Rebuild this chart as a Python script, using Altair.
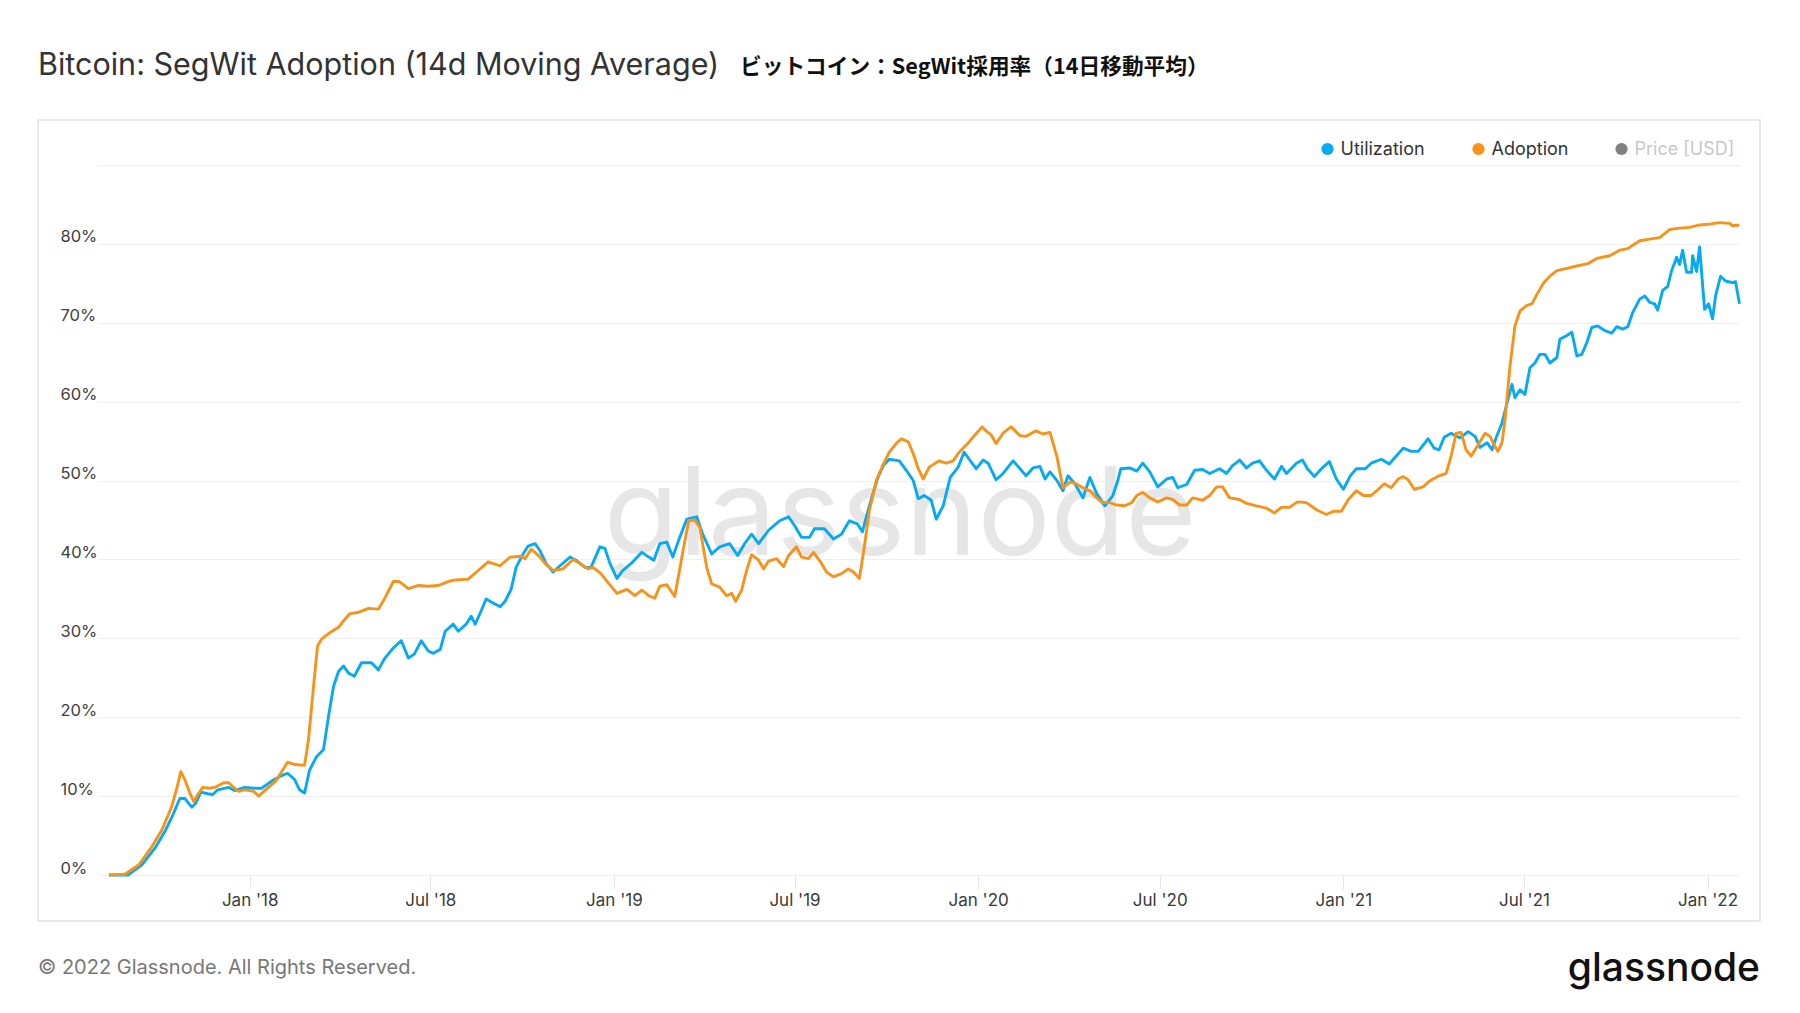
import altair as alt
import pandas as pd

TITLE = "Bitcoin: SegWit Adoption (14d Moving Average)"
SUBTITLE = "ビットコイン：SegWit採用率（14日移動平均）"
COPYRIGHT = "© 2022 Glassnode. All Rights Reserved."
BRAND = "glassnode"

LEGEND_LABELS = ["Utilization", "Adoption", "Price [USD]"]
LEGEND_DOT_COLORS = ["#06a9f4", "#f7931a", "#808080"]
LEGEND_TEXT_COLORS = ["#333333", "#333333", "#c8c8c8"]

TICK_DATES = ["2018-01-01", "2018-07-01", "2019-01-01", "2019-07-01", "2020-01-01",
              "2020-07-01", "2021-01-01", "2021-07-01", "2022-01-01"]
Y_TICKS = [0, 10, 20, 30, 40, 50, 60, 70, 80, 90]

adoption_dates = [
    "2017-08-13", "2017-08-29", "2017-09-12", "2017-09-25", "2017-10-05", "2017-10-15", "2017-10-20",
    "2017-10-24", "2017-10-28", "2017-11-02", "2017-11-06", "2017-11-10", "2017-11-15", "2017-11-22",
    "2017-11-27", "2017-12-06", "2017-12-11", "2017-12-16", "2017-12-21", "2017-12-27", "2018-01-05",
    "2018-01-10", "2018-01-17", "2018-01-27", "2018-02-02", "2018-02-08", "2018-02-15", "2018-02-25",
    "2018-03-01", "2018-03-06", "2018-03-10", "2018-03-14", "2018-03-21", "2018-03-31", "2018-04-05",
    "2018-04-11", "2018-04-20", "2018-04-30", "2018-05-10", "2018-05-16", "2018-05-25", "2018-05-31",
    "2018-06-09", "2018-06-19", "2018-06-29", "2018-07-09", "2018-07-19", "2018-07-26", "2018-08-08",
    "2018-08-18", "2018-08-28", "2018-09-09", "2018-09-19", "2018-09-30", "2018-10-04", "2018-10-10",
    "2018-10-14", "2018-10-19", "2018-10-24", "2018-11-01", "2018-11-11", "2018-11-21", "2018-11-28",
    "2018-12-06", "2018-12-11", "2018-12-19", "2018-12-26", "2019-01-04", "2019-01-14", "2019-01-22",
    "2019-01-29", "2019-02-05", "2019-02-11", "2019-02-16", "2019-02-23", "2019-03-03", "2019-03-12",
    "2019-03-17", "2019-03-23", "2019-03-28", "2019-04-04", "2019-04-09", "2019-04-17", "2019-04-24",
    "2019-04-29", "2019-05-03", "2019-05-09", "2019-05-14", "2019-05-19", "2019-05-26", "2019-05-31",
    "2019-06-05", "2019-06-13", "2019-06-20", "2019-06-25", "2019-07-03", "2019-07-08", "2019-07-15",
    "2019-07-20", "2019-07-27", "2019-08-02", "2019-08-09", "2019-08-17", "2019-08-24", "2019-08-29",
    "2019-09-04", "2019-09-09", "2019-09-14", "2019-09-21", "2019-09-28", "2019-10-04", "2019-10-11",
    "2019-10-16", "2019-10-23", "2019-10-28", "2019-11-02", "2019-11-07", "2019-11-13", "2019-11-23",
    "2019-11-30", "2019-12-07", "2019-12-13", "2019-12-23", "2019-12-29", "2020-01-05", "2020-01-09",
    "2020-01-14", "2020-01-19", "2020-01-26", "2020-02-03", "2020-02-12", "2020-02-18", "2020-02-28",
    "2020-03-06", "2020-03-13", "2020-03-20", "2020-03-26", "2020-04-02", "2020-04-08", "2020-04-15",
    "2020-04-22", "2020-04-29", "2020-05-05", "2020-05-12", "2020-05-19", "2020-05-27", "2020-06-03",
    "2020-06-08", "2020-06-14", "2020-06-21", "2020-06-29", "2020-07-08", "2020-07-14", "2020-07-21",
    "2020-07-28", "2020-08-03", "2020-08-13", "2020-08-20", "2020-08-27", "2020-09-02", "2020-09-09",
    "2020-09-19", "2020-09-26", "2020-10-06", "2020-10-16", "2020-10-24", "2020-10-31", "2020-11-08",
    "2020-11-16", "2020-11-25", "2020-12-05", "2020-12-15", "2020-12-22", "2020-12-30", "2021-01-06",
    "2021-01-14", "2021-01-21", "2021-01-29", "2021-02-05", "2021-02-11", "2021-02-18", "2021-02-25",
    "2021-03-02", "2021-03-07", "2021-03-13", "2021-03-22", "2021-03-28", "2021-04-07", "2021-04-14",
    "2021-04-19", "2021-04-24", "2021-04-29", "2021-05-04", "2021-05-09", "2021-05-16", "2021-05-23",
    "2021-05-28", "2021-06-02", "2021-06-05", "2021-06-09", "2021-06-12", "2021-06-17", "2021-06-22",
    "2021-06-27", "2021-07-04", "2021-07-09", "2021-07-14", "2021-07-21", "2021-07-27", "2021-08-03",
    "2021-08-13", "2021-08-23", "2021-09-03", "2021-09-13", "2021-09-25", "2021-10-05", "2021-10-13",
    "2021-10-25", "2021-11-04", "2021-11-14", "2021-11-24", "2021-12-04", "2021-12-14", "2021-12-24",
    "2022-01-03", "2022-01-13", "2022-01-23", "2022-01-26", "2022-02-02",
]
adoption_values = [
    0.0, 0.1, 1.3, 3.6, 5.7, 8.7, 11.0,
    13.1, 12.1, 10.4, 9.3, 10.2, 11.1, 11.0,
    11.1, 11.7, 11.7, 11.1, 10.6, 10.8, 10.6,
    10.0, 10.8, 11.9, 13.1, 14.3, 14.0, 13.9,
    17.2, 23.9, 29.0, 29.9, 30.6, 31.4, 32.2,
    33.1, 33.3, 33.8, 33.7, 35.0, 37.2, 37.2,
    36.3, 36.7, 36.6, 36.7, 37.2, 37.4, 37.5,
    38.6, 39.7, 39.2, 40.3, 40.4, 40.1, 41.3,
    40.9, 40.3, 39.5, 38.6, 38.8, 40.0, 39.5,
    38.8, 39.0, 38.2, 37.1, 35.7, 36.2, 35.4,
    36.1, 35.4, 35.1, 36.6, 36.8, 35.3, 41.6,
    44.9, 45.0, 44.1, 39.0, 36.9, 36.5, 35.4,
    35.7, 34.7, 36.1, 38.6, 40.6, 39.9, 38.8,
    39.8, 40.1, 39.1, 40.5, 41.6, 40.3, 40.1,
    40.9, 39.7, 38.4, 37.8, 38.2, 38.8, 38.4,
    37.6, 41.6, 46.2, 50.0, 52.1, 53.6, 54.7,
    55.3, 54.9, 53.4, 51.5, 50.2, 51.7, 52.5,
    52.2, 52.5, 53.6, 54.9, 55.8, 56.8, 56.3,
    55.8, 54.7, 56.0, 56.8, 55.7, 55.6, 56.3,
    55.9, 56.1, 53.0, 49.1, 49.8, 49.6, 49.1,
    48.7, 47.8, 47.2, 47.2, 46.9, 46.8, 47.2,
    48.1, 48.5, 47.8, 47.3, 47.8, 47.6, 46.9,
    46.9, 47.8, 47.5, 48.1, 49.2, 49.2, 47.8,
    47.6, 47.1, 46.8, 46.5, 45.9, 46.6, 46.6,
    47.3, 47.2, 46.3, 45.7, 46.1, 46.1, 47.6,
    48.7, 48.1, 48.1, 48.9, 49.6, 49.1, 50.2,
    50.5, 50.1, 48.9, 49.2, 49.9, 50.6, 50.9,
    53.1, 56.0, 56.1, 53.9, 53.1, 54.5, 56.0,
    55.6, 54.3, 53.7, 54.8, 57.7, 64.5, 69.6,
    71.5, 72.2, 72.4, 73.6, 75.1, 75.9, 76.6,
    76.9, 77.2, 77.5, 78.2, 78.5, 79.2, 79.4,
    80.4, 80.6, 80.8, 81.8, 82.0, 82.1, 82.4,
    82.5, 82.7, 82.6, 82.3, 82.4,
]

utilization_dates = [
    "2017-08-13", "2017-09-01", "2017-09-15", "2017-09-28", "2017-10-08", "2017-10-16", "2017-10-23",
    "2017-10-28", "2017-11-04", "2017-11-08", "2017-11-13", "2017-11-20", "2017-11-25", "2017-11-30",
    "2017-12-11", "2017-12-17", "2017-12-27", "2018-01-06", "2018-01-13", "2018-01-23", "2018-02-02",
    "2018-02-08", "2018-02-15", "2018-02-20", "2018-02-25", "2018-03-02", "2018-03-09", "2018-03-16",
    "2018-03-21", "2018-03-26", "2018-03-31", "2018-04-05", "2018-04-10", "2018-04-16", "2018-04-23",
    "2018-05-03", "2018-05-10", "2018-05-16", "2018-05-25", "2018-06-02", "2018-06-09", "2018-06-15",
    "2018-06-22", "2018-06-29", "2018-07-04", "2018-07-11", "2018-07-16", "2018-07-24", "2018-07-29",
    "2018-08-06", "2018-08-11", "2018-08-15", "2018-08-21", "2018-08-26", "2018-08-31", "2018-09-09",
    "2018-09-14", "2018-09-20", "2018-09-25", "2018-10-02", "2018-10-07", "2018-10-14", "2018-10-19",
    "2018-10-25", "2018-11-01", "2018-11-08", "2018-11-18", "2018-11-24", "2018-12-03", "2018-12-09",
    "2018-12-18", "2018-12-23", "2018-12-28", "2019-01-04", "2019-01-10", "2019-01-20", "2019-01-29",
    "2019-02-05", "2019-02-10", "2019-02-16", "2019-02-23", "2019-03-01", "2019-03-08", "2019-03-15",
    "2019-03-25", "2019-03-31", "2019-04-09", "2019-04-17", "2019-04-27", "2019-05-05", "2019-05-12",
    "2019-05-19", "2019-05-26", "2019-06-05", "2019-06-16", "2019-06-25", "2019-07-01", "2019-07-08",
    "2019-07-16", "2019-07-21", "2019-07-31", "2019-08-09", "2019-08-17", "2019-08-25", "2019-09-02",
    "2019-09-07", "2019-09-14", "2019-09-22", "2019-09-28", "2019-10-04", "2019-10-14", "2019-10-21",
    "2019-10-28", "2019-11-02", "2019-11-08", "2019-11-15", "2019-11-20", "2019-11-27", "2019-12-04",
    "2019-12-12", "2019-12-18", "2019-12-23", "2019-12-30", "2020-01-06", "2020-01-11", "2020-01-19",
    "2020-01-26", "2020-02-05", "2020-02-12", "2020-02-18", "2020-02-25", "2020-03-03", "2020-03-08",
    "2020-03-13", "2020-03-20", "2020-03-26", "2020-03-31", "2020-04-07", "2020-04-15", "2020-04-22",
    "2020-04-29", "2020-05-07", "2020-05-15", "2020-05-20", "2020-05-23", "2020-06-01", "2020-06-08",
    "2020-06-14", "2020-06-21", "2020-06-29", "2020-07-08", "2020-07-14", "2020-07-19", "2020-07-28",
    "2020-08-05", "2020-08-13", "2020-08-20", "2020-08-30", "2020-09-06", "2020-09-12", "2020-09-19",
    "2020-09-26", "2020-10-02", "2020-10-09", "2020-10-16", "2020-10-24", "2020-10-31", "2020-11-05",
    "2020-11-15", "2020-11-21", "2020-11-26", "2020-12-03", "2020-12-10", "2020-12-18", "2020-12-25",
    "2021-01-01", "2021-01-08", "2021-01-14", "2021-01-23", "2021-01-29", "2021-02-08", "2021-02-16",
    "2021-02-25", "2021-03-02", "2021-03-10", "2021-03-17", "2021-03-22", "2021-03-27", "2021-04-02",
    "2021-04-07", "2021-04-12", "2021-04-19", "2021-04-28", "2021-05-06", "2021-05-13", "2021-05-18",
    "2021-05-25", "2021-05-30", "2021-06-03", "2021-06-09", "2021-06-14", "2021-06-19", "2021-06-22",
    "2021-06-27", "2021-07-02", "2021-07-07", "2021-07-12", "2021-07-17", "2021-07-22", "2021-07-27",
    "2021-08-03", "2021-08-06", "2021-08-13", "2021-08-18", "2021-08-23", "2021-08-28", "2021-09-02",
    "2021-09-07", "2021-09-13", "2021-09-20", "2021-09-27", "2021-10-02", "2021-10-08", "2021-10-13",
    "2021-10-18", "2021-10-25", "2021-10-30", "2021-11-04", "2021-11-09", "2021-11-12", "2021-11-17",
    "2021-11-22", "2021-11-26", "2021-12-01", "2021-12-04", "2021-12-07", "2021-12-11", "2021-12-16",
    "2021-12-17", "2021-12-21", "2021-12-24", "2021-12-29", "2022-01-02", "2022-01-06", "2022-01-09",
    "2022-01-14", "2022-01-19", "2022-01-26", "2022-01-29", "2022-02-02",
]
utilization_values = [
    0.0, 0.0, 1.3, 3.4, 5.5, 7.6, 9.7,
    9.7, 8.6, 9.1, 10.5, 10.3, 10.2, 10.8,
    11.1, 10.7, 11.1, 11.0, 11.0, 11.9, 12.6,
    12.9, 12.1, 10.8, 10.4, 13.3, 15.0, 15.9,
    20.1, 23.9, 25.8, 26.5, 25.6, 25.2, 26.9,
    26.9, 26.0, 27.4, 28.8, 29.7, 27.5, 28.0,
    29.7, 28.4, 28.1, 28.6, 30.9, 31.8, 30.9,
    31.8, 32.8, 31.8, 33.5, 35.0, 34.6, 34.0,
    34.7, 36.2, 39.0, 40.7, 41.7, 42.0, 41.1,
    39.5, 38.4, 39.2, 40.3, 39.9, 39.0, 39.0,
    41.6, 41.4, 39.5, 37.6, 38.6, 39.7, 40.9,
    40.3, 39.9, 42.0, 42.2, 40.3, 42.8, 45.1,
    45.4, 43.2, 40.7, 41.6, 42.0, 40.5, 42.0,
    43.2, 42.0, 43.7, 44.9, 45.4, 44.3, 42.8,
    42.8, 43.9, 43.9, 42.6, 43.2, 44.9, 44.5,
    43.5, 46.8, 50.2, 51.9, 52.7, 52.5, 51.3,
    50.0, 47.7, 48.1, 47.5, 45.1, 46.8, 50.4,
    51.7, 53.6, 52.7, 51.5, 52.6, 52.2, 50.1,
    50.9, 52.5, 51.5, 50.6, 51.6, 51.8, 50.2,
    51.1, 50.0, 48.7, 50.6, 49.6, 47.8, 50.4,
    48.3, 46.8, 48.1, 50.0, 51.5, 51.6, 51.2,
    52.2, 51.1, 49.2, 50.2, 50.4, 49.1, 49.5,
    51.3, 51.4, 50.9, 51.5, 50.9, 51.9, 52.6,
    51.6, 52.2, 52.5, 51.3, 50.2, 51.8, 50.9,
    52.2, 52.6, 51.5, 50.5, 51.5, 52.4, 50.2,
    48.9, 50.6, 51.5, 51.5, 52.2, 52.7, 52.1,
    53.4, 54.1, 53.7, 53.7, 54.5, 55.3, 54.1,
    53.9, 55.5, 56.0, 55.4, 56.2, 55.6, 54.2,
    54.8, 53.9, 55.4, 57.3, 59.8, 62.2, 60.5,
    61.5, 60.9, 64.3, 64.9, 66.0, 66.0, 64.9,
    65.6, 67.9, 68.4, 68.8, 65.8, 66.0, 67.5,
    69.4, 69.6, 69.0, 68.7, 69.5, 69.2, 69.5,
    71.3, 73.0, 73.4, 72.6, 72.4, 71.6, 74.1,
    74.6, 76.6, 78.3, 77.4, 79.2, 76.4, 76.4,
    78.5, 76.5, 79.6, 71.7, 72.4, 70.5, 73.4,
    75.9, 75.3, 75.1, 75.2, 72.4,
]

FONT = "Inter"
BLUE, ORANGE = LEGEND_DOT_COLORS[0], LEGEND_DOT_COLORS[1]


def utc(s):
    t = pd.Timestamp(s)
    return alt.DateTime(year=t.year, month=t.month, date=t.day, hours=t.hour, utc=True)


# order key: Utilization drawn first, Adoption on top
lines_df = pd.concat([
    pd.DataFrame({"date": utilization_dates, "value": utilization_values, "series": "a_Utilization"}),
    pd.DataFrame({"date": adoption_dates, "value": adoption_values, "series": "b_Adoption"}),
], ignore_index=True)

x_scale = alt.Scale(type="utc", domain=[utc("2017-08-02"), utc("2022-02-02 12:00")])
y_scale = alt.Scale(domain=[0, 90], nice=False, zero=True)

x_axis = alt.Axis(
    values=[utc(d) for d in TICK_DATES],
    labelExpr='utcFormat(datum.value, "%b \'%y")',
    grid=False, domain=False, ticks=True, tickSize=14, tickColor="#e6e6e6", tickWidth=1,
    labelPadding=3, labelFontSize=17, labelColor="#3a3a3a", labelFont=FONT,
    labelFlush=False, labelOverlap=False, title=None,
)
y_axis = alt.Axis(
    values=Y_TICKS,
    labelExpr="datum.value >= 90 ? '' : datum.value + '%'",
    grid=True, gridColor="#efefef", gridWidth=1, domain=False, ticks=False, tickSize=0,
    labelAlign="left", labelBaseline="alphabetic", labelPadding=38, labelOffset=-2,
    labelFontSize=16.5, labelColor="#404040", labelFont=FONT, labelOverlap=False, title=None,
)

one = pd.DataFrame({"k": [0]})

frame = alt.Chart(one).mark_rect(fill="transparent", stroke="#e1e1e1", strokeWidth=1.5).encode(
    x=alt.value(-60), x2=alt.value(1662), y=alt.value(-45), y2=alt.value(756)
)

watermark = alt.Chart(pd.DataFrame({"t": [BRAND]})).mark_text(
    align="center", baseline="alphabetic", fontSize=122, font=FONT, color="#e6e6e6"
).encode(x=alt.value(802), y=alt.value(390), text="t:N")

lines = alt.Chart(lines_df).mark_line(strokeWidth=2.9, strokeJoin="round").encode(
    x=alt.X("date:T", scale=x_scale, axis=x_axis),
    y=alt.Y("value:Q", scale=y_scale, axis=y_axis),
    color=alt.Color("series:N", scale=alt.Scale(domain=["a_Utilization", "b_Adoption"],
                                                range=[BLUE, ORANGE]), legend=None),
    order=alt.Order("date:T"),
)

title = alt.Chart(pd.DataFrame({"t": [TITLE]})).mark_text(
    align="left", baseline="middle", fontSize=30.5, font=FONT, color="#333333"
).encode(x=alt.value(-60), y=alt.value(-99), text="t:N")

subtitle = alt.Chart(pd.DataFrame({"t": [SUBTITLE]})).mark_text(
    align="left", baseline="middle", fontSize=21.7, font="Noto Sans CJK JP", fontWeight="bold", color="#111111"
).encode(x=alt.value(642), y=alt.value(-98), text="t:N")

copyright_txt = alt.Chart(pd.DataFrame({"t": [COPYRIGHT]})).mark_text(
    align="left", baseline="middle", fontSize=20, font=FONT, color="#777777"
).encode(x=alt.value(-60), y=alt.value(803), text="t:N")

brand = alt.Chart(pd.DataFrame({"t": [BRAND]})).mark_text(
    align="right", baseline="alphabetic", fontSize=39, font=FONT, fontWeight=500, color="#111111"
).encode(x=alt.value(1662), y=alt.value(816), text="t:N")

legend_layers = []
legend_x = [1229.5, 1380.5, 1523.5]
for lab, dot, tc, lx in zip(LEGEND_LABELS, LEGEND_DOT_COLORS, LEGEND_TEXT_COLORS, legend_x):
    d = pd.DataFrame({"t": [lab]})
    legend_layers.append(
        alt.Chart(d).mark_circle(size=150, color=dot, opacity=1).encode(x=alt.value(lx), y=alt.value(-16))
    )
    legend_layers.append(
        alt.Chart(d).mark_text(align="left", baseline="middle", fontSize=18, font=FONT, color=tc)
        .encode(x=alt.value(lx + 13), y=alt.value(-15), text="t:N")
    )

chart = alt.layer(
    frame, watermark, lines, title, subtitle, copyright_txt, brand, *legend_layers
).properties(
    width=1642, height=710,
    autosize=alt.AutoSizeParams(type="none"),
    padding={"left": 90, "top": 157, "right": 52, "bottom": 130},
    background="white",
).configure_view(stroke=None)

chart.save("out.html", embed_options={"renderer": "svg", "actions": False})
